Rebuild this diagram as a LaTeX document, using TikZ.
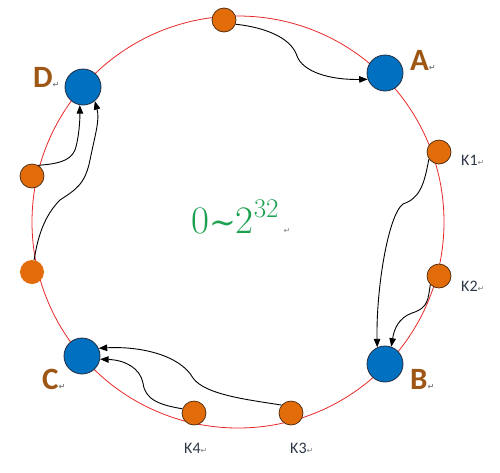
\documentclass[tikz,border=0pt]{standalone}
\usepackage{fontspec}
\newfontfamily\labfont{Carlito}
\newfontfamily\symfont{DejaVu Sans}
\newfontfamily\tildefont{DejaVu Serif}
\usetikzlibrary{arrows.meta}
\definecolor{nodeblue}{RGB}{0,112,192}
\definecolor{nodeorange}{RGB}{226,108,10}
\definecolor{edgedark}{RGB}{35,45,65}
\definecolor{orangeedge}{RGB}{70,40,15}
\definecolor{labbrown}{RGB}{158,86,20}
\definecolor{ringred}{RGB}{232,40,40}
\definecolor{numgreen}{RGB}{28,160,80}
\definecolor{klab}{RGB}{45,55,70}
\newcommand{\retmark}{{\symfont\fontsize{8}{8}\selectfont\textcolor{gray}{↵}}}
\tikzset{
  bignode/.style={circle, fill=nodeblue, draw=edgedark, line width=0.8pt, minimum size=36pt, inner sep=0pt},
  keynode/.style={circle, fill=nodeorange, draw=orangeedge, line width=0.7pt, minimum size=24pt, inner sep=0pt},
  conn/.style={-{Triangle[length=8.5pt,width=6.5pt]}, line width=0.9pt, black},
  biglab/.style={anchor=base west, inner sep=0pt, text=labbrown, font=\labfont\bfseries\fontsize{31}{33}\selectfont},
  keylab/.style={anchor=base west, inner sep=0pt, text=klab, font=\labfont\fontsize{16}{18}\selectfont},
}
\begin{document}
\begin{tikzpicture}[x=1pt,y=-1pt]
\useasboundingbox (0,0) rectangle (500,472);
% ring
\draw[ringred, line width=0.8pt] (238,222) circle [radius=206];
% nodes
\node[keynode] (t)  at (224,20) {};
\node[bignode] (A)  at (385,73) {};
\node[keynode] (k1) at (439,152) {};
\node[keynode] (k2) at (439,276) {};
\node[bignode] (B)  at (385,364) {};
\node[keynode] (k3) at (291,413) {};
\node[keynode] (k4) at (194,413) {};
\node[bignode] (C)  at (82,356) {};
\node[keynode, draw=none] (l2) at (32,272) {};
\node[keynode] (l1) at (32,176) {};
\node[bignode] (D)  at (83,87) {};
% labels
\node[biglab] (la) at (410,70) {A\retmark};
\node[biglab] (lb) at (410,389) {B\retmark};
\node[biglab] (lc) at (42,389) {C\retmark};
\node[biglab] (ld) at (33,87) {D\retmark};
\node[keylab] (lk1) at (461,165) {K1\retmark};
\node[keylab] (lk2) at (461,291) {K2\retmark};
\node[keylab] (lk3) at (290,453) {K3\retmark};
\node[keylab] (lk4) at (184,453) {K4\retmark};
\node[anchor=base west, inner sep=0pt, text=numgreen, font=\fontsize{39}{42}\selectfont] (range) at (191,233)
  {0{\tildefont\fontsize{32}{34}\selectfont ∼}2\raisebox{0.4em}{\fontsize{27}{29}\selectfont 32}\hspace{5pt}\retmark};
% connectors
\draw[conn] (t.-20) .. controls (270,28) and (292,40) .. (297,56)
  .. controls (303,72) and (330,80) .. (A.200);
\draw[conn] (k1.215) .. controls (424,185) and (420,198) .. (403,204)
  .. controls (388,215) and (376,290) .. (B.115);
\draw[conn] (k2.225) .. controls (428,300) and (428,308) .. (412,313)
  .. controls (398,318) and (394,330) .. (B.70);
\draw[conn] (k3.140) .. controls (250,400) and (205,395) .. (193,378)
  .. controls (180,355) and (140,346) .. (C.25);
\draw[conn] (k4.160) .. controls (160,405) and (145,400) .. (143,383)
  .. controls (140,368) and (125,360) .. (C.-10);
\draw[conn] (l1.60) .. controls (55,164) and (70,162) .. (75,150)
  .. controls (79,138) and (80,120) .. (D.-100);
\draw[conn] (l2.80) .. controls (38,235) and (45,215) .. (60,200)
  .. controls (75,190) and (85,185) .. (90,160)
  .. controls (95,135) and (100,120) .. (D.-50);
\end{tikzpicture}
\end{document}
